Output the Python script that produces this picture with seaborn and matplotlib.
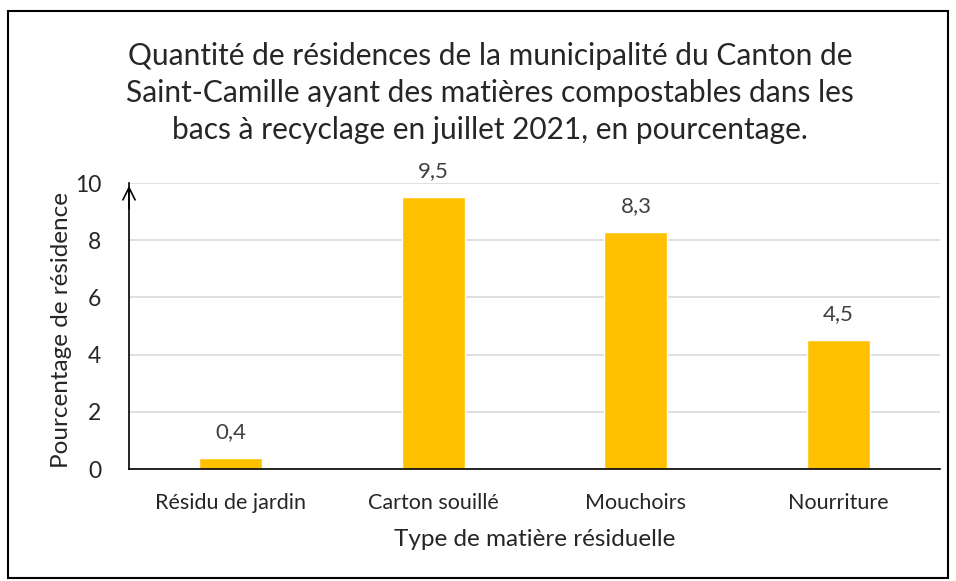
import matplotlib
matplotlib.use("Agg")
import matplotlib.pyplot as plt
import matplotlib.patches as mpatches
import pandas as pd
import seaborn as sns

categories = ["Résidu de jardin", "Carton souillé", "Mouchoirs", "Nourriture"]
values = [0.4, 9.5, 8.3, 4.5]
value_labels = ["0,4", "9,5", "8,3", "4,5"]
y_ticks = [0, 2, 4, 6, 8, 10]

title = ("Quantité de résidences de la municipalité du Canton de\n"
         "Saint-Camille ayant des matières compostables dans les\n"
         "bacs à recyclage en juillet 2021, en pourcentage.")

sns.set_theme(style="white")
plt.rcParams['font.family'] = ['Lato', 'DejaVu Sans']

df = pd.DataFrame({"categorie": categories, "valeur": values})

fig = plt.figure(figsize=(9.56, 5.81), dpi=100)
ax = fig.add_axes([129 / 956, 1 - 469 / 581, (940 - 129) / 956, (469 - 183) / 581])

sns.barplot(data=df, x="categorie", y="valeur", color="#FFC000", width=0.31,
            saturation=1, ax=ax)

ax.set_ylim(0, 10)
ax.set_yticks(y_ticks)
ax.set_yticklabels([str(t) for t in y_ticks], fontsize=16.5)
ax.tick_params(axis="x", labelsize=15.5, length=0, pad=17)
ax.tick_params(axis="y", length=0, pad=20)
ax.yaxis.grid(True, color="#D9D9D9", linewidth=1.2)
ax.set_axisbelow(True)
for side in ["top", "right"]:
    ax.spines[side].set_visible(False)
ax.spines["left"].set_color("black")
ax.spines["bottom"].set_color("black")
ax.spines["left"].set_linewidth(1.2)
ax.spines["bottom"].set_linewidth(1.2)

# arrow at the top of the y axis
ax.annotate("", xy=(0, 1.0), xycoords="axes fraction", xytext=(0, 0.9),
            arrowprops=dict(arrowstyle="->", color="black", lw=1.2,
                            mutation_scale=22))

for i, (v, lab) in enumerate(zip(values, value_labels)):
    ax.text(i, v + 0.55, lab, ha="center", va="bottom", fontsize=16,
            color="#404040")

ax.set_xlabel("Type de matière résiduelle", fontsize=17.5)
ax.xaxis.set_label_coords(0.5, -(540 - 469) / 286)
ax.xaxis.label.set_va("center")
ax.set_ylabel("Pourcentage de résidence", fontsize=17.5)
ax.yaxis.set_label_coords(-(129 - 62) / 811, 0.485)
ax.yaxis.label.set_va("center")

fig.text(490 / 956, 1 - 93 / 581, title, ha="center", va="center",
         fontsize=21.5, linespacing=1.39)

border = mpatches.Rectangle((8 / 956, 1 - 578 / 581), 940 / 956, 567 / 581,
                            transform=fig.transFigure, fill=False,
                            edgecolor="black", linewidth=1.5)
fig.patches.append(border)

fig.savefig("out.png", dpi=100)
